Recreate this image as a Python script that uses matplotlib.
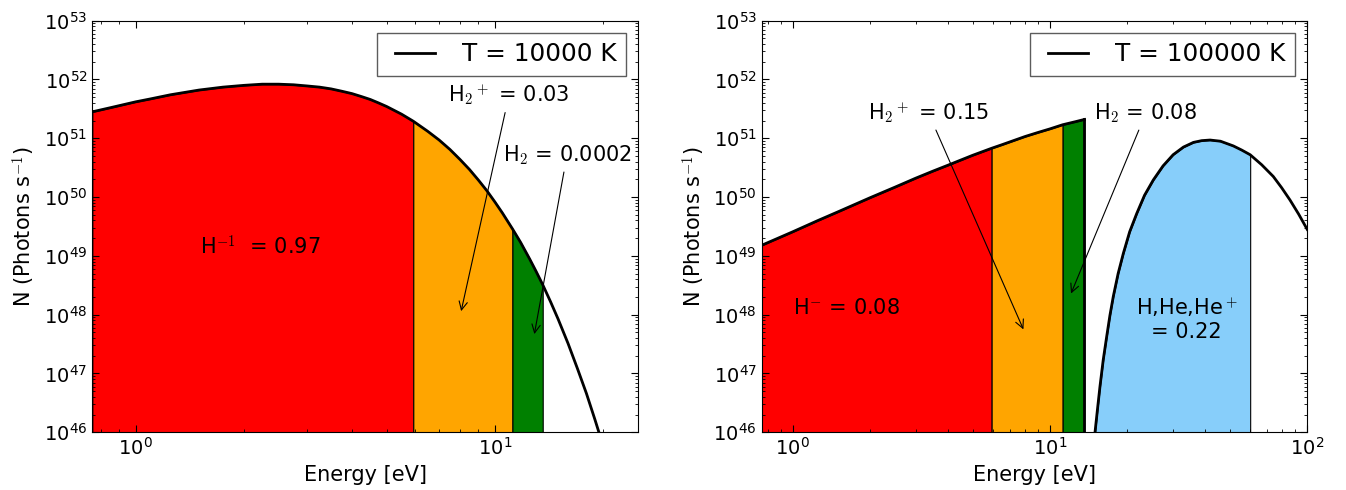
import numpy as np
import matplotlib
matplotlib.use("Agg")
import matplotlib.pyplot as plt
from matplotlib.lines import Line2D
from matplotlib.legend_handler import HandlerLine2D
from matplotlib.ticker import LogLocator, NullFormatter

# photon spectra, log10 N (photons s^-1) against energy in eV
cool_E = [0.757, 0.85, 1.0, 1.1, 1.25, 1.5, 1.75, 2.0, 2.25, 2.5, 2.75, 3.0, 3.25, 3.5, 3.75,
          4.0, 4.25, 4.5, 4.75, 5.0, 5.5, 5.93, 6.5, 7.0, 7.5, 8.0, 8.5, 9.0, 9.5, 10.0,
          10.5, 11.2, 11.8, 12.5, 13.0, 13.6, 14.3, 15.0, 16.0, 17.0, 18.0, 19.0, 19.5, 20.5]
cool_logN = [51.45, 51.52, 51.62, 51.67, 51.74, 51.82, 51.87, 51.90, 51.92, 51.92, 51.91, 51.89, 51.87, 51.84, 51.80,
             51.76, 51.71, 51.66, 51.60, 51.54, 51.41, 51.29, 51.12, 50.97, 50.81, 50.64, 50.47, 50.29, 50.11, 49.92,
             49.73, 49.46, 49.23, 48.95, 48.75, 48.51, 48.22, 47.93, 47.51, 47.08, 46.66, 46.22, 46.00, 45.56]

hot_low_E = [0.757, 1.0, 1.25, 1.5, 2.0, 2.5, 3.0, 3.5, 4.0, 5.0, 5.93, 6.5, 7.0, 8.0, 9.0,
             10.0, 11.2, 12.5, 13.6]
hot_low_logN = [49.18, 49.41, 49.60, 49.75, 49.99, 50.17, 50.32, 50.44, 50.54, 50.71, 50.83, 50.89, 50.94, 51.03, 51.10,
                51.16, 51.23, 51.28, 51.32]
hot_high_E = [14.96, 15.3, 15.64, 16.1, 16.61, 17.1, 17.62, 18.4, 19.27, 20.4, 21.73, 23.3, 25.2, 27.5,
              30.1, 33.0, 36.1, 38.9, 41.9, 46.0, 51.6, 55.6, 60.0, 66.5, 73.8, 79.5, 85.7, 92.6, 100.0]
hot_high_logN = [46.0, 46.40, 46.78, 47.23, 47.63, 47.99, 48.31, 48.70, 49.04, 49.41, 49.72, 50.03, 50.29, 50.53,
                 50.72, 50.85, 50.93, 50.96, 50.97, 50.95, 50.87, 50.80, 50.72, 50.55, 50.35, 50.16, 49.95, 49.71, 49.45]

# energy bands (eV) and their colours
band_edges = [0.757, 5.93, 11.2, 13.6]
band_colors = ["red", "orange", "green"]
ion_band = (14.96, 60.0)

plt.rcParams.update({
    "font.family": "DejaVu Sans",
    "mathtext.fontset": "cm",
    "xtick.direction": "in", "ytick.direction": "in",
    "xtick.top": True, "ytick.right": True,
    "xtick.major.size": 5, "ytick.major.size": 5,
    "xtick.minor.size": 2.5, "ytick.minor.size": 2.5,
    "xtick.labelsize": 14, "ytick.labelsize": 14,
    "axes.labelsize": 15,
})

YMIN, YMAX = 1e46, 1e53

fig = plt.figure(figsize=(13.46, 4.9), dpi=100)
axL = fig.add_axes([0.0686, 0.1178, 0.4056, 0.840])
axR = fig.add_axes([0.5659, 0.1178, 0.4053, 0.840])


def fill_bands(ax, E, N):
    for lo, hi, c in zip(band_edges[:-1], band_edges[1:], band_colors):
        m = (E >= lo) & (E <= hi)
        ax.fill_between(E[m], N[m], YMIN, facecolor=c, edgecolor="k", lw=0.8, zorder=1)


# left panel: T = 10000 K
E = np.array(cool_E); N = 10 ** np.array(cool_logN)
fill_bands(axL, E, N)
axL.plot(E, N, "k-", lw=2, label="T = 10000 K", zorder=3)

ann = dict(fontsize=15, ha="center", va="center",
           arrowprops=dict(arrowstyle="->", color="k", lw=0.8, shrinkA=2, shrinkB=0))
axL.text(1.51, 10**49.15, r"H$^{-1}$  = 0.97", fontsize=15, ha="left", va="center")
axL.annotate(r"H$_2$$^+$ = 0.03", xy=(8.06, 10**48.06), xytext=(10.96, 10**51.74), **ann)
axL.annotate(r"H$_2$ = 0.0002", xy=(12.89, 10**47.67), xytext=(15.9, 10**50.72), **ann)
axL.set_xlim(0.757, 25.1)

# right panel: T = 100000 K
E1 = np.array(hot_low_E); N1 = 10 ** np.array(hot_low_logN)
E2 = np.array(hot_high_E); N2 = 10 ** np.array(hot_high_logN)
fill_bands(axR, E1, N1)
m = (E2 >= ion_band[0]) & (E2 <= ion_band[1])
axR.fill_between(E2[m], N2[m], YMIN, facecolor="lightskyblue", edgecolor="k", lw=0.8, zorder=1)
axR.plot(E1, N1, "k-", lw=2, label="T = 100000 K", zorder=3)
axR.plot([E1[-1], E1[-1]], [N1[-1], YMIN], "k-", lw=2, zorder=3)
axR.plot(E2, N2, "k-", lw=2, zorder=3)

axR.text(1.005, 10**48.12, r"H$^{-}$ = 0.08", fontsize=15, ha="left", va="center")
axR.text(34.0, 10**47.93, "H,He,He$^+$\n= 0.22", fontsize=15, ha="center", va="center",
         multialignment="center")
axR.annotate(r"H$_2$$^+$ = 0.15", xy=(7.88, 10**47.75), xytext=(3.36, 10**51.44), **ann)
axR.annotate(r"H$_2$ = 0.08", xy=(12.07, 10**48.36), xytext=(23.6, 10**51.43), **ann)
axR.set_xlim(0.757, 100)

for ax in (axL, axR):
    ax.set_xscale("log")
    ax.set_yscale("log")
    ax.set_ylim(YMIN, YMAX)
    ax.yaxis.set_major_locator(LogLocator(base=10, numticks=10))
    ax.xaxis.set_minor_formatter(NullFormatter())
    ax.yaxis.set_minor_formatter(NullFormatter())
    ax.set_xlabel("Energy [eV]")
    ax.set_ylabel(r"N (Photons s$^{-1}$)")
    leg = ax.legend(loc="upper right", fontsize=17.8, fancybox=False, handlelength=1.95,
                    handletextpad=1.1, borderpad=0.38, borderaxespad=0.5,
                    handler_map={Line2D: HandlerLine2D(xpad=0.35)})
    leg.get_frame().set_edgecolor("0.2")
    leg.get_frame().set_linewidth(1.0)

fig.savefig("out.png", dpi=100)
